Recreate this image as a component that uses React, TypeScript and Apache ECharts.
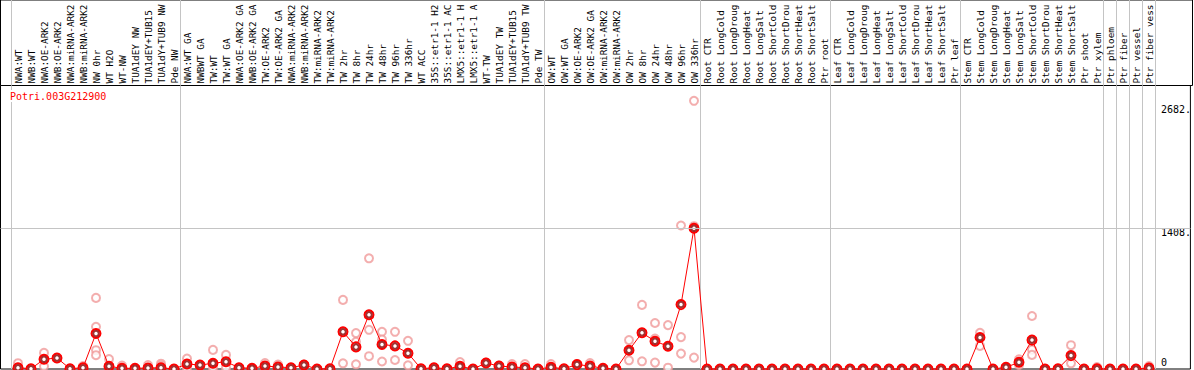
import React, { useEffect, useRef } from 'react';
import * as echarts from 'echarts';

const geneId = 'Potri.003G212900';

const categories = [
  'NWA:WT', 'NWB:WT', 'NWA:OE-ARK2', 'NWB:OE-ARK2', 'NWA:miRNA-ARK2', 'NWB:miRNA-ARK2', 'NW 0hr', 'WT H2O',
  'WT-NW', 'TUA1dEY NW', 'TUA1dEY+TUB15', 'TUA1dY+TUB9 NW', 'Pde NW',
  'NWA:WT GA', 'NWBWT GA', 'TW:WT', 'TW:WT GA', 'NWA:OE-ARK2 GA', 'NWB:OE-ARK2 GA', 'TW:OE-ARK2', 'TW:OE-ARK2 GA',
  'NWA:miRNA-ARK2', 'NWB:miRNA-ARK2', 'TW:miRNA-ARK2', 'TW:miRNA-ARK2', 'TW 2hr', 'TW 8hr', 'TW 24hr', 'TW 48hr',
  'TW 96hr', 'TW 336hr', 'WT ACC', '35S::etr1-1 H2', '35S::etr1-1 AC', 'LMX5::etr1-1 H', 'LMX5::etr1-1 A',
  'WT-TW', 'TUA1dEY TW', 'TUA1dEY+TUB15', 'TUA1dY+TUB9 TW', 'Pde TW',
  'OW:WT', 'OW:WT GA', 'OW:OE-ARK2', 'OW:OE-ARK2 GA', 'OW:miRNA-ARK2', 'OW:miRNA-ARK2', 'OW 2hr', 'OW 8hr',
  'OW 24hr', 'OW 48hr', 'OW 96hr', 'OW 336hr',
  'Root CTR', 'Root LongCold', 'Root LongDroug', 'Root LongHeat', 'Root LongSalt', 'Root ShortCold',
  'Root ShortDrou', 'Root ShortHeat', 'Root ShortSalt', 'Ptr root',
  'Leaf CTR', 'Leaf LongCold', 'Leaf LongDroug', 'Leaf LongHeat', 'Leaf LongSalt', 'Leaf ShortCold',
  'Leaf ShortDrou', 'Leaf ShortHeat', 'Leaf ShortSalt', 'Ptr leaf',
  'Stem CTR', 'Stem LongCold', 'Stem LongDroug', 'Stem LongHeat', 'Stem LongSalt', 'Stem ShortCold',
  'Stem ShortDrou', 'Stem ShortHeat', 'Stem ShortSalt', 'Ptr shoot',
  'Ptr xylem', 'Ptr phloem', 'Ptr fiber', 'Ptr vessel', 'Ptr fiber vess',
];

const meanValues = [
  13, 3, 97, 110, 3, 13, 355, 27, 7, 7, 10, 13, 0,
  50, 40, 57, 73, 13, 7, 30, 20, 13, 40, 0, 2, 372, 221, 543, 245, 231, 158, 3, 13, 2, 27, 0, 60, 30, 20, 13, 0,
  17, 3, 44, 30, 7, 0, 188, 362, 278, 228, 644, 1408,
  0, 0, 0, 0, 0, 0, 0, 0, 0, 0,
  0, 0, 0, 0, 0, 0, 0, 0, 0, 0,
  0, 315, 0, 17, 67, 289, 0, 3, 134, 0,
  3, 0, 0, 0, 10,
];

const replicateCategory = [
  0, 2, 2, 5, 6, 6, 6, 6, 7, 8, 10, 11, 11, 13, 13, 15, 15, 16, 16, 19, 20, 22,
  25, 25, 26, 26, 26, 27, 27, 27, 28, 28, 28, 29, 29, 30, 30, 34, 36, 37, 38, 39,
  41, 43, 44, 47, 47, 48, 48, 49, 49, 49, 50, 50, 51, 51, 51, 52, 52, 52,
  74, 74, 77, 77, 78, 78, 78, 81, 81, 83, 87,
];
const replicateValue = [
  58, 161, 27, 30, 711, 422, 188, 138, 100, 35, 40, 53, 35, 104, 5, 191, 13, 141, 13, 60, 45, 45,
  691, 57, 359, 272, 47, 1107, 392, 128, 372, 295, 75, 372, 90, 282, 37, 70, 65, 35, 50, 50,
  50, 50, 60, 289, 87, 641, 77, 460, 305, 64, 439, 13, 1435, 319, 154, 2682, 114, 1428,
  362, 231, 97, 40, 530, 194, 141, 238, 57, 20, 30,
];

const upperTickValues = [1408, 2682];
const zeroTickValues = [0];
const gridLineValue = 1408;
const groupStarts = [0, 13, 41, 53, 63, 73, 84, 85, 86, 87];

const MONO = 'DejaVu Sans Mono';
const Y_MAX = 2835;

export default function App() {
  const ref = useRef<HTMLDivElement>(null);

  useEffect(() => {
    const chart = echarts.init(ref.current as HTMLDivElement, null, { renderer: 'svg' });
    const sepLine = {
      show: true,
      interval: (i: number) => groupStarts.indexOf(i) >= 0,
      lineStyle: { color: '#c4c4c4', width: 1 },
    };
    const frame = { show: true, borderColor: '#000', borderWidth: 1, backgroundColor: 'transparent' };
    const catLeft = 11.5;
    const catWidth = categories.length * 13;
    const plotTop = 85.5;
    const plotHeight = 283.5;
    const labelFont = { fontFamily: MONO, fontSize: 10, color: '#000' };

    const option = {
      animation: false,
      title: {
        text: geneId,
        left: 9,
        top: 90,
        padding: [1, 1],
        backgroundColor: '#fff',
        textStyle: { color: '#ff0000', fontFamily: MONO, fontSize: 10, fontWeight: 'normal' },
      },
      grid: [
        { left: catLeft, width: catWidth, top: -10, height: 95.5 },
        { left: 0.5, width: 1192, top: -10, height: 95.5, ...frame },
        { left: 0.5, width: 1192, top: plotTop, height: plotHeight, ...frame },
        { left: catLeft, width: catWidth, top: plotTop, height: plotHeight },
      ],
      xAxis: [
        {
          gridIndex: 0,
          type: 'category',
          data: categories,
          position: 'bottom',
          axisLine: { show: false },
          axisTick: { show: false },
          axisLabel: {
            inside: true,
            rotate: 90,
            interval: 0,
            margin: 2,
            fontFamily: MONO,
            fontSize: 9.4,
            color: '#000',
          },
          splitLine: sepLine,
        },
        { gridIndex: 1, type: 'value', show: false },
        { gridIndex: 2, type: 'value', show: false, min: 0, max: 1 },
        {
          gridIndex: 3,
          type: 'category',
          data: categories,
          axisLine: { show: false },
          axisTick: { show: false },
          axisLabel: { show: false },
          splitLine: sepLine,
        },
      ],
      yAxis: [
        { gridIndex: 0, type: 'value', show: false },
        { gridIndex: 1, type: 'value', show: false },
        {
          gridIndex: 2,
          type: 'value',
          min: 0,
          max: Y_MAX,
          position: 'right',
          axisLine: { show: false },
          axisTick: { show: false },
          splitLine: { show: false },
          axisLabel: {
            inside: true,
            customValues: upperTickValues,
            align: 'left',
            verticalAlign: 'top',
            margin: 29.5,
            ...labelFont,
            formatter: (v: number) => (v === upperTickValues[1] ? '{b|' + v + '.}' : '{a|' + v + '.}'),
            rich: {
              a: { ...labelFont, lineHeight: 8 },
              b: { ...labelFont, lineHeight: 18 },
            },
          },
        },
        {
          gridIndex: 2,
          type: 'value',
          min: 0,
          max: Y_MAX,
          position: 'right',
          axisLine: { show: false },
          axisTick: { show: false },
          splitLine: { show: false },
          axisLabel: {
            inside: true,
            customValues: zeroTickValues,
            align: 'left',
            verticalAlign: 'bottom',
            margin: 29.5,
            ...labelFont,
            lineHeight: 13,
            formatter: (v: number) => String(v),
          },
        },
        { gridIndex: 3, type: 'value', min: 0, max: Y_MAX, show: false },
      ],
      series: [
        {
          type: 'line',
          xAxisIndex: 2,
          yAxisIndex: 2,
          data: [[0.5, 0]],
          showSymbol: false,
          lineStyle: { opacity: 0 },
          silent: true,
          markLine: {
            silent: true,
            symbol: ['none', 'none'],
            label: { show: false },
            lineStyle: { color: '#c4c4c4', type: 'solid', width: 1 },
            data: [{ yAxis: gridLineValue }],
          },
        },
        {
          type: 'scatter',
          xAxisIndex: 3,
          yAxisIndex: 4,
          symbol: 'emptyCircle',
          symbolSize: 8,
          clip: false,
          itemStyle: { color: '#f09a9a', borderColor: '#f09a9a', borderWidth: 1.1 },
          data: replicateCategory.map((c, i) => [c, replicateValue[i]]),
          z: 2,
        },
        {
          type: 'line',
          xAxisIndex: 3,
          yAxisIndex: 4,
          data: meanValues,
          symbol: 'emptyCircle',
          symbolSize: 9,
          showAllSymbol: true,
          clip: false,
          lineStyle: { color: '#ff0000', width: 1 },
          itemStyle: { color: '#ff0000', borderColor: '#ff0000', borderWidth: 1.1 },
          z: 3,
        },
        {
          type: 'scatter',
          xAxisIndex: 3,
          yAxisIndex: 4,
          data: meanValues,
          symbol: 'emptyCircle',
          symbolSize: 5.5,
          clip: false,
          itemStyle: { color: '#8a0000', borderColor: '#8a0000', borderWidth: 0.7 },
          z: 4,
        },
      ],
    };

    chart.setOption(option as any);
    return () => chart.dispose();
  }, []);

  return (
    <div
      ref={ref}
      style={{ position: 'fixed', left: 0, top: 0, width: 1194, height: 370, background: '#fff' }}
    />
  );
}
